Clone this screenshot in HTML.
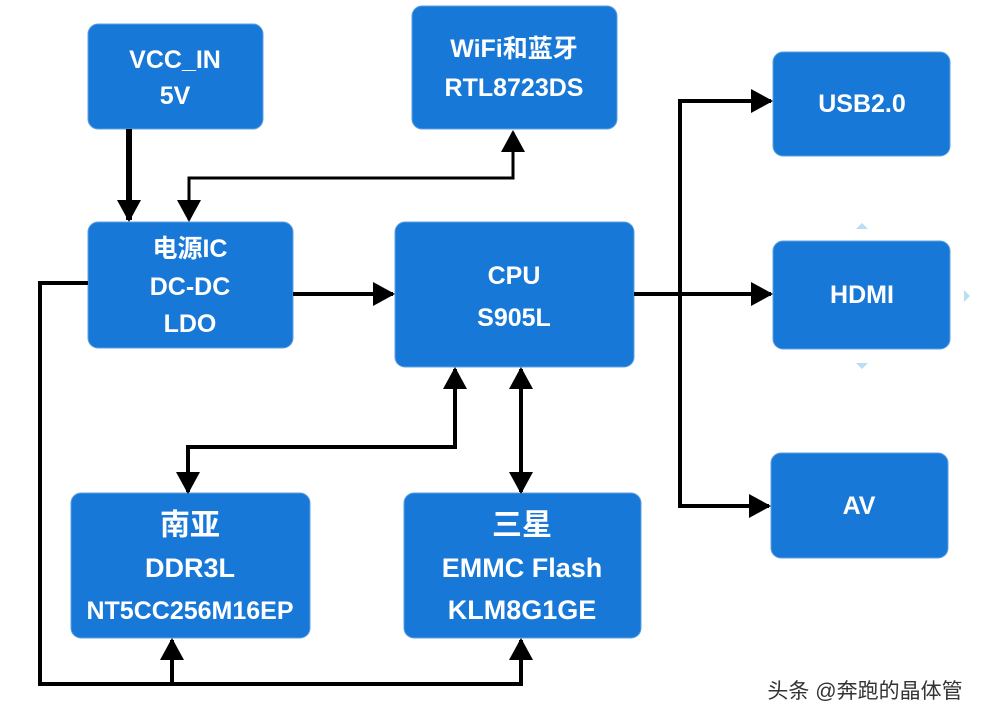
<!DOCTYPE html>
<html><head><meta charset="utf-8"><style>
html,body{margin:0;padding:0;background:#fff;width:1003px;height:724px;overflow:hidden}
svg text{font-family:"Liberation Sans","Noto Sans CJK SC",sans-serif;font-weight:bold;fill:#fff;text-anchor:middle}
</style></head><body>
<svg width="1003" height="724" viewBox="0 0 1003 724" xmlns="http://www.w3.org/2000/svg">
<defs>
<marker id="a" markerWidth="24" markerHeight="24" refX="20" refY="12" orient="auto-start-reverse" markerUnits="userSpaceOnUse"><path d="M0,0 L22,12 L0,24 z" fill="#000"/></marker>
</defs>
<g fill="#1878d8" stroke="#5fa0e0" stroke-width="1">
<rect x="88" y="24" width="175" height="105" rx="10"/>
<rect x="412" y="6" width="205" height="123" rx="10"/>
<rect x="773" y="52" width="177" height="104" rx="10"/>
<rect x="88" y="222" width="205" height="126" rx="10"/>
<rect x="395" y="222" width="239" height="145" rx="10"/>
<rect x="773" y="241" width="177" height="108" rx="10"/>
<rect x="771" y="453" width="177" height="105" rx="10"/>
<rect x="71" y="493" width="239" height="145" rx="10"/>
<rect x="404" y="493" width="237" height="145" rx="10"/>
</g>
<g stroke="#000" stroke-width="4" fill="none">
<path d="M129 129 V220" stroke-width="6" marker-end="url(#a)"/>
<path d="M189 220 V178 H513 V132" stroke-width="3" marker-end="url(#a)" marker-start="url(#a)"/>
<path d="M293 294 H393" marker-end="url(#a)"/>
<path d="M634 294 H771" marker-end="url(#a)"/>
<path d="M680 294 V101 H771" marker-end="url(#a)"/>
<path d="M680 294 V506 H769" marker-end="url(#a)"/>
<path d="M455 369 V447 H188 V492" marker-end="url(#a)" marker-start="url(#a)"/>
<path d="M521 369 V492" marker-end="url(#a)" marker-start="url(#a)"/>
<path d="M88 283 H40 V684 H521 V640" marker-end="url(#a)"/>
<path d="M172 684 V640" marker-end="url(#a)"/>
</g>
<g fill="#bcdcf0"><path d="M856 229 L862 223 L868 229z"/><path d="M856 363 L862 369 L868 363z"/><path d="M964 290 L970 296 L964 302z"/></g>
<g font-size="25">
<text x="175" y="68">VCC_IN</text><text x="175" y="104">5V</text>
<text x="514" y="57">WiFi和蓝牙</text><text x="514" y="96">RTL8723DS</text>
<text x="862" y="112">USB2.0</text>
<text x="190" y="257">电源IC</text><text x="190" y="295">DC-DC</text><text x="190" y="332">LDO</text>
<text x="514" y="284">CPU</text><text x="514" y="326">S905L</text>
<text x="862" y="303">HDMI</text>
<text x="859" y="514">AV</text>
<text x="190" y="535" font-size="30">南亚</text><text x="190" y="577" font-size="27">DDR3L</text><text x="190" y="619">NT5CC256M16EP</text>
<text x="522" y="535" font-size="30">三星</text><text x="522" y="577" font-size="27">EMMC Flash</text><text x="522" y="619" font-size="27">KLM8G1GE</text>
</g>
<text x="865" y="698" font-size="21" style="font-weight:normal;fill:#333">头条 @奔跑的晶体管</text>
</svg>
</body></html>
